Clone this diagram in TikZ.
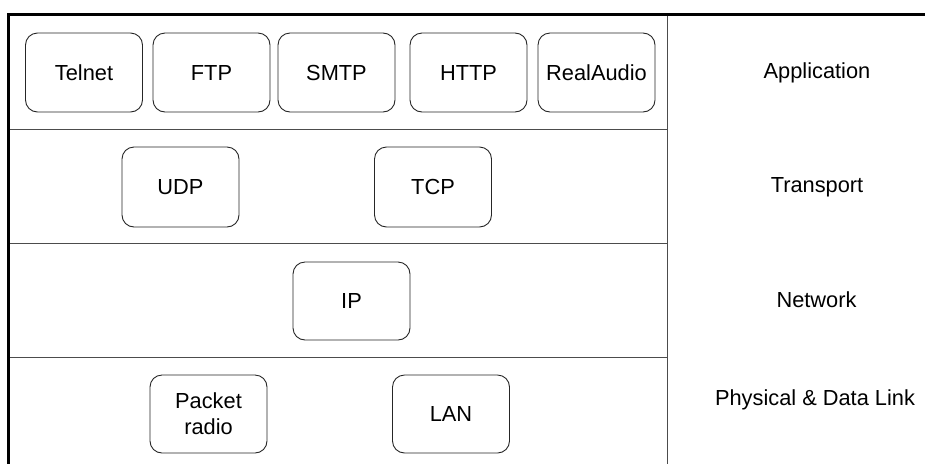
\documentclass[tikz,border=0pt]{standalone}
\usepackage{fontspec}
\setmainfont{Liberation Sans}
\begin{document}
\begin{tikzpicture}[x=1pt,y=-1pt,
  proto/.style={draw=black!85, line width=0.9pt, rounded corners=12pt, minimum width=117pt, minimum height=79pt, inner sep=0pt, align=center, font=\fontsize{21.8}{26}\selectfont},
  layerlbl/.style={inner sep=0pt, text height=15.8pt, text depth=0pt, font=\fontsize{21.8}{26}\selectfont},
  sep/.style={draw=black!70, line width=1pt},
  frame/.style={draw=black, line width=3.2pt}]
\useasboundingbox (0,0) rectangle (925,464);
% frame lines
\coordinate (tl) at (7,14.8);
\coordinate (tr) at (925,14.8);
\coordinate (lt) at (8.6,13.2);
\coordinate (lb) at (8.6,464);
\draw[frame] (tl) -- (tr);
\draw[frame] (lt) -- (lb);
\coordinate (vt) at (667,16);
\coordinate (vb) at (667,464);
\draw[sep] (vt) -- (vb);
\coordinate (h1l) at (10,129.5); \coordinate (h1r) at (667,129.5);
\coordinate (h2l) at (10,243.5); \coordinate (h2r) at (667,243.5);
\coordinate (h3l) at (10,357.5); \coordinate (h3r) at (667,357.5);
\draw[sep] (h1l) -- (h1r);
\draw[sep] (h2l) -- (h2r);
\draw[sep] (h3l) -- (h3r);
% application
\node[proto] (telnet) at (84,72.5) {Telnet};
\node[proto] (ftp) at (211.5,72.5) {FTP};
\node[proto] (smtp) at (336.5,72.5) {SMTP};
\node[proto] (http) at (468.5,72.5) {HTTP};
\node[proto] (ra) at (596.5,72.5) {RealAudio};
% transport
\node[proto, minimum height=80pt] (udp) at (180.5,187) {UDP};
\node[proto, minimum height=80pt] (tcp) at (433,187) {TCP};
% network
\node[proto, minimum height=78pt] (ip) at (351.5,301) {IP};
% physical
\node[proto, minimum height=78pt] (pr) at (208.5,414) {Packet\\radio};
\node[proto, minimum height=78pt] (lan) at (451,414) {LAN};
% layer labels
\node[layerlbl] (app) at (817,71) {Application};
\node[layerlbl] (trans) at (817,185) {Transport};
\node[layerlbl] (net) at (816.5,300) {Network};
\node[layerlbl] (phys) at (815,398) {Physical \& Data Link};
\end{tikzpicture}
\end{document}
